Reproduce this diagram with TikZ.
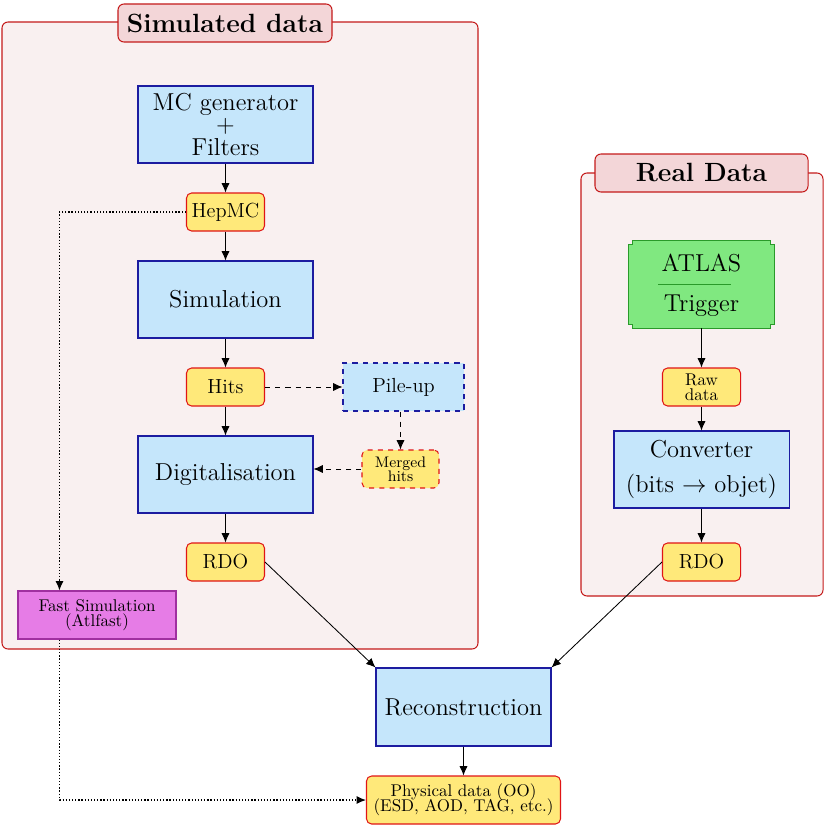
\documentclass[tikz,border=0pt]{standalone}
\usetikzlibrary{arrows.meta,calc}
\definecolor{bgpink}{HTML}{F9F0F0}
\definecolor{titlepink}{HTML}{F3D6D8}
\definecolor{redb}{HTML}{C41A1A}
\definecolor{bluef}{HTML}{C5E6FB}
\definecolor{blueb}{HTML}{1C1CA0}
\definecolor{yellowf}{HTML}{FFE97A}
\definecolor{yellowb}{HTML}{E01515}
\definecolor{magf}{HTML}{E67CE6}
\definecolor{magb}{HTML}{A030A0}
\definecolor{greenf}{HTML}{80E880}
\definecolor{greenb}{HTML}{2A9A2A}
\newcommand\pxu{0.5882pt}
\tikzset{
  panel/.style={draw=redb, fill=bgpink, line width=0.6pt, rounded corners=3.5pt},
  paneltitle/.style={draw=redb, fill=titlepink, line width=0.6pt, rounded corners=3.5pt, font=\fontsize{15.5}{18}\selectfont\bfseries, inner sep=0pt},
  bluebox/.style={draw=blueb, fill=bluef, line width=0.6pt, align=center, inner sep=0pt, font=\Large},
  yellowbox/.style={draw=yellowb, fill=yellowf, line width=0.6pt, rounded corners=3pt, align=center, inner sep=0pt, font=\large},
  magbox/.style={draw=magb, fill=magf, line width=0.6pt, align=center, inner sep=0pt},
  arr/.style={-{Latex[length=5.5pt,width=4.8pt]}, line width=0.5pt},
  darr/.style={arr, dashed},
  dotarr/.style={-{Latex[length=5.5pt,width=4.8pt]}, line width=0.75pt, dash pattern=on 0.75pt off 1.1pt},
}
\begin{document}
\begin{tikzpicture}[x=0.5882pt, y=-0.5882pt]
\useasboundingbox (0,0) rectangle (827,827);
% panels
\draw[panel] (2,22) rectangle (478,649);
\node[paneltitle, minimum width=214*\pxu, minimum height=38*\pxu] (simtitle) at (225,23) {Simulated data};
\draw[panel] (581,173) rectangle (823,596);
\node[paneltitle, minimum width=213*\pxu, minimum height=38*\pxu] (realtitle) at (701.5,173) {Real Data};

% simulated chain
\node[bluebox, minimum width=175*\pxu, minimum height=77*\pxu] (mc) at (225.5,124.5) {MC generator\\[-5pt]+\\[-5pt]Filters};
\node[yellowbox, minimum width=78*\pxu, minimum height=38*\pxu] (hepmc) at (225.5,212) {HepMC};
\node[bluebox, minimum width=175*\pxu, minimum height=77*\pxu] (simu) at (225.5,299.5) {Simulation};
\node[yellowbox, minimum width=78*\pxu, minimum height=38*\pxu] (hits) at (225.5,387) {Hits};
\node[bluebox, dashed, font=\large, minimum width=121*\pxu, minimum height=48*\pxu] (pileup) at (403.5,387) {Pile-up};
\node[bluebox, minimum width=175*\pxu, minimum height=77*\pxu] (digi) at (225.5,474.5) {Digitalisation};
\node[yellowbox, dashed, font=\small, minimum width=77*\pxu, minimum height=38*\pxu] (merged) at (400.5,469) {Merged\\[-3pt]hits};
\node[yellowbox, minimum width=78*\pxu, minimum height=38*\pxu] (rdo1) at (225.5,562) {RDO};
\node[magbox, minimum width=158*\pxu, minimum height=48*\pxu] (fast) at (97,615) {Fast Simulation\\[-3pt](Atlfast)};

% real chain
\node[minimum width=145*\pxu, minimum height=87*\pxu, inner sep=0pt] (atlas) at (701.5,284.5) {};
\filldraw[fill=greenf, draw=greenb, line width=0.6pt]
  ($(atlas.north west)+(4,0)$) -- ($(atlas.north east)+(-4,0)$) -- ++(0,4) -- ++(4,0)
  -- ($(atlas.south east)+(0,-4)$) -- ++(-4,0) -- ++(0,4)
  -- ($(atlas.south west)+(4,0)$) -- ++(0,-4) -- ++(-4,0)
  -- ($(atlas.north west)+(0,4)$) -- ++(4,0) -- cycle;
\node[font=\Large, inner sep=0pt] (atlastxt) at (701.5,263) {ATLAS};
\node[font=\Large, inner sep=0pt] (trigtxt) at (701.5,306) {Trigger};
\draw[greenb, line width=1pt] (658,284.5) -- (731,284.5);
\node[yellowbox, font=\normalsize, minimum width=78*\pxu, minimum height=38*\pxu] (raw) at (701.5,387) {Raw\\[-3pt]data};
\node[bluebox, minimum width=175*\pxu, minimum height=77*\pxu] (conv) at (701.5,469.5) {Converter\\[3pt](bits $\rightarrow$ objet)};
\node[yellowbox, minimum width=78*\pxu, minimum height=38*\pxu] (rdo2) at (701.5,562) {RDO};

% common
\node[bluebox, minimum width=175*\pxu, minimum height=78*\pxu] (reco) at (463.5,707) {Reconstruction};
\node[yellowbox, font=\normalsize, minimum width=194*\pxu, minimum height=48*\pxu] (phys) at (463.5,800) {Physical data (OO)\\[-3pt](ESD, AOD, TAG, etc.)};

% connectors
\draw[arr] (mc) -- (hepmc);
\draw[arr] (hepmc) -- (simu);
\draw[arr] (simu) -- (hits);
\draw[arr] (hits) -- (digi);
\draw[arr] (digi) -- (rdo1);
\draw[darr] (hits.east) -- (pileup.west);
\draw[darr] (merged.north |- pileup.south) -- (merged.north);
\draw[darr] (merged.west) -- (merged.west -| digi.east);
\coordinate (fastin) at ($(fast.north west)+(42,0)$);
\coordinate (fastout) at ($(fast.south west)+(42,0)$);
\draw[dotarr] (hepmc.west) -| (fastin);
\draw[dotarr] (fastout) |- (phys.west);
\draw[arr] (rdo1.east) -- (reco.north west);
\draw[arr] (rdo2.west) -- (reco.north east);
\draw[arr] (reco) -- (phys);
\draw[arr] (atlas) -- (raw);
\draw[arr] (raw) -- (conv);
\draw[arr] (conv) -- (rdo2);
\end{tikzpicture}
\end{document}
